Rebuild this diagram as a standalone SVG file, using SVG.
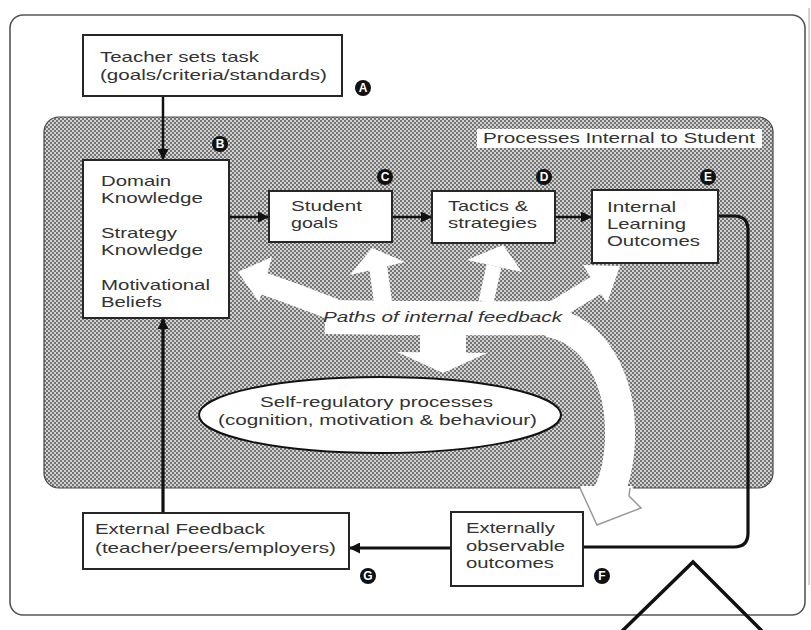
<svg xmlns="http://www.w3.org/2000/svg" width="811" height="630" viewBox="0 0 811 630">
<defs>
<pattern id="dots" width="4" height="4" patternUnits="userSpaceOnUse">
<rect width="4" height="4" fill="#d2d2d2"/>
<rect width="2" height="2" fill="#747474"/>
<rect x="2" y="2" width="2" height="2" fill="#747474"/>
</pattern>
<marker id="ah" viewBox="0 0 10 10" refX="10" refY="5" markerWidth="11" markerHeight="11" markerUnits="userSpaceOnUse" orient="auto">
<path d="M0,0 L10,5 L0,10 z" fill="#111"/>
</marker>
<style>
.box{fill:#fff;stroke:#262626;stroke-width:2}
.t{font-family:"Liberation Sans",Arial,sans-serif;font-size:14.5px;fill:#333}
.it{font-style:italic}
.conn{fill:none;stroke:#111;stroke-width:2.5}
.thick{stroke-width:3.2}
.badge circle{fill:#111}
.badge text{font-family:"Liberation Sans",Arial,sans-serif;font-size:12px;font-weight:bold;fill:#fff;text-anchor:middle}
.w{fill:none;stroke:#fff;stroke-linejoin:round}
</style>
</defs>

<rect x="0" y="0" width="811" height="630" fill="#fff"/>
<line x1="809" y1="8" x2="809" y2="585" stroke="#aaa" stroke-width="1"/>
<rect x="10" y="15" width="795" height="600" rx="13" fill="#fff" stroke="#555" stroke-width="1.6"/>

<g id="internal-region">
<rect x="44" y="117" width="729" height="371" rx="15" fill="url(#dots)" stroke="#444" stroke-width="1.2"/>
<rect x="477" y="129" width="285" height="19" fill="#fff"/>
<text class="t" x="483" y="143" textLength="272" lengthAdjust="spacingAndGlyphs">Processes Internal to Student</text>
</g>

<g id="feedback-paths">
<path class="w" d="M262 283 Q300 296 340 312" stroke-width="22"/>
<path class="w" d="M325 317 Q440 319 560 318" stroke-width="34"/>
<path class="w" d="M383 302 L378 266" stroke-width="18"/>
<path class="w" d="M486 302 L494 266" stroke-width="15"/>
<path class="w" d="M552 312 L598 284" stroke-width="20"/>
<rect x="420" y="320" width="46" height="34" fill="#fff"/>
<path class="w" d="M548 322 C595 330 622 380 620 440 C619 465 615 480 608 494" stroke-width="30"/>
<polygon points="238,272 272,257 259,302" fill="#fff"/>
<polygon points="372,248 405,262 350,275" fill="#fff"/>
<polygon points="503,245 522,272 467,260" fill="#fff"/>
<polygon points="620,266 607,303 583,265" fill="#fff"/>
<polygon points="443,373 397,352 487,353" fill="#fff"/>
<polygon points="580,486 597,525 641,508 632,486" fill="#fff"/>
<polyline points="580,488 597,525 641,508 629,496 630,488" fill="none" stroke="#999" stroke-width="1.5" stroke-linejoin="miter"/>
<text class="t it" x="323" y="322" textLength="239" lengthAdjust="spacingAndGlyphs">Paths of internal feedback</text>
</g>

<g id="connectors">
<line class="conn" x1="163" y1="96" x2="163" y2="160" marker-end="url(#ah)"/>
<line class="conn" x1="229" y1="217" x2="269" y2="217" marker-end="url(#ah)"/>
<line class="conn" x1="392" y1="217" x2="432" y2="217" marker-end="url(#ah)"/>
<line class="conn" x1="555" y1="217" x2="592" y2="217" marker-end="url(#ah)"/>
<path class="conn thick" d="M718 216 H734 Q748 216 748 230 V533 Q748 547 734 547 H583"/>
<line class="conn thick" x1="451" y1="548" x2="349" y2="548" marker-end="url(#ah)"/>
<line class="conn thick" x1="163" y1="513" x2="163" y2="318" marker-end="url(#ah)"/>
</g>

<g id="teacher">
<rect class="box" x="83" y="35" width="259" height="61"/>
<text class="t" x="100" y="62" textLength="159" lengthAdjust="spacingAndGlyphs">Teacher sets task</text>
<text class="t" x="100" y="80" textLength="227" lengthAdjust="spacingAndGlyphs">(goals/criteria/standards)</text>
</g>

<g id="domain">
<rect class="box" x="83" y="160" width="146" height="158"/>
<text class="t" x="101" y="186" textLength="70" lengthAdjust="spacingAndGlyphs">Domain</text>
<text class="t" x="101" y="203" textLength="102" lengthAdjust="spacingAndGlyphs">Knowledge</text>
<text class="t" x="101" y="238" textLength="76" lengthAdjust="spacingAndGlyphs">Strategy</text>
<text class="t" x="101" y="255" textLength="102" lengthAdjust="spacingAndGlyphs">Knowledge</text>
<text class="t" x="101" y="290" textLength="109" lengthAdjust="spacingAndGlyphs">Motivational</text>
<text class="t" x="101" y="307" textLength="61" lengthAdjust="spacingAndGlyphs">Beliefs</text>
</g>

<g id="student-goals">
<rect class="box" x="269" y="191" width="123" height="51"/>
<text class="t" x="291" y="211" textLength="71" lengthAdjust="spacingAndGlyphs">Student</text>
<text class="t" x="291" y="228" textLength="47" lengthAdjust="spacingAndGlyphs">goals</text>
</g>

<g id="tactics">
<rect class="box" x="432" y="191" width="123" height="52"/>
<text class="t" x="448" y="211" textLength="80" lengthAdjust="spacingAndGlyphs">Tactics &amp;</text>
<text class="t" x="448" y="228" textLength="89" lengthAdjust="spacingAndGlyphs">strategies</text>
</g>

<g id="internal-outcomes">
<rect class="box" x="592" y="190" width="126" height="73"/>
<text class="t" x="607" y="212" textLength="69" lengthAdjust="spacingAndGlyphs">Internal</text>
<text class="t" x="607" y="229" textLength="79" lengthAdjust="spacingAndGlyphs">Learning</text>
<text class="t" x="607" y="246" textLength="93" lengthAdjust="spacingAndGlyphs">Outcomes</text>
</g>

<g id="self-regulatory">
<ellipse cx="380" cy="415" rx="181" ry="38" fill="#fff" stroke="#111" stroke-width="2"/>
<text class="t" x="260" y="407" textLength="233" lengthAdjust="spacingAndGlyphs">Self-regulatory processes</text>
<text class="t" x="218" y="425" textLength="319" lengthAdjust="spacingAndGlyphs">(cognition, motivation &amp; behaviour)</text>
</g>

<g id="external-feedback">
<rect class="box" x="83" y="513" width="266" height="56"/>
<text class="t" x="95" y="534" textLength="170" lengthAdjust="spacingAndGlyphs">External Feedback</text>
<text class="t" x="95" y="553" textLength="241" lengthAdjust="spacingAndGlyphs">(teacher/peers/employers)</text>
</g>

<g id="external-outcomes">
<rect class="box" x="451" y="512" width="132" height="74"/>
<text class="t" x="466" y="533" textLength="89" lengthAdjust="spacingAndGlyphs">Externally</text>
<text class="t" x="466" y="551" textLength="99" lengthAdjust="spacingAndGlyphs">observable</text>
<text class="t" x="466" y="568" textLength="88" lengthAdjust="spacingAndGlyphs">outcomes</text>
</g>

<g id="badges">
<g class="badge"><circle cx="363" cy="88" r="8"/><text x="363" y="92">A</text></g>
<g class="badge"><circle cx="220" cy="144" r="8"/><text x="220" y="148">B</text></g>
<g class="badge"><circle cx="385" cy="177" r="8"/><text x="385" y="181">C</text></g>
<g class="badge"><circle cx="544" cy="177" r="8"/><text x="544" y="181">D</text></g>
<g class="badge"><circle cx="708" cy="177" r="8"/><text x="708" y="181">E</text></g>
<g class="badge"><circle cx="602" cy="576" r="8"/><text x="602" y="580">F</text></g>
<g class="badge"><circle cx="368" cy="576" r="8"/><text x="368" y="580">G</text></g>
</g>

<polyline points="615,638 693,562 769,638" fill="none" stroke="#111" stroke-width="3.5"/>
</svg>
